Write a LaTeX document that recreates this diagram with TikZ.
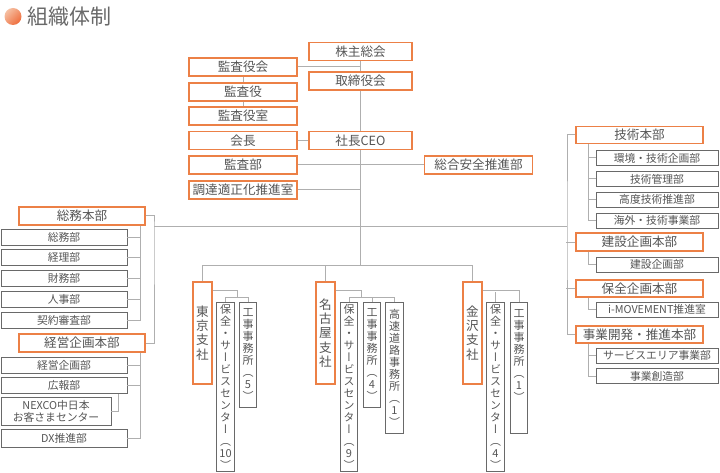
\documentclass[tikz,border=0pt]{standalone}
\usepackage{fontspec}
\setmainfont{Noto Sans CJK JP}
\newfontfamily\tatefont{Noto Sans CJK JP}[RawFeature=+vert]
\usepackage{tikz}
\usetikzlibrary{positioning}
\definecolor{orgorange}{RGB}{236,128,70}
\definecolor{subgray}{RGB}{105,105,105}
\definecolor{linegray}{RGB}{175,175,175}
\definecolor{textgray}{RGB}{85,85,85}
\definecolor{titlegray}{RGB}{105,105,105}
\tikzset{
  orgblock/.style={
    draw=orgorange,
    line width=1.3pt,
    fill=white,
    text=textgray,
    inner sep=0pt,
    minimum width=108pt,
    minimum height=18pt,
    font=\fontsize{12.6}{14}\selectfont
  },
  subblock/.style={
    draw=subgray,
    line width=0.9pt,
    fill=white,
    text=textgray,
    inner sep=0pt,
    minimum width=126pt,
    minimum height=16pt,
    font=\fontsize{10.8}{12}\selectfont
  },
  rorgblock/.style={
    orgblock,
    minimum width=127pt,
    minimum height=17pt
  },
  rsubblock/.style={
    subblock,
    minimum width=122pt,
    minimum height=15pt
  },
  orgvblock/.style={
    orgblock,
    minimum width=19pt,
    minimum height=102pt,
    align=center,
    font=\tatefont\fontsize{12.6}{14.4}\selectfont
  },
  subvblock/.style={
    subblock,
    minimum width=17.5pt,
    align=center,
    font=\tatefont\fontsize{11}{12}\selectfont
  },
  orgline/.style={draw=linegray, line width=1pt}
}

\begin{document}
\begin{tikzpicture}[x=1pt, y=-1pt]
\useasboundingbox (0,0) rectangle (720,473);

\node[circle, inner sep=0pt, minimum size=17pt, top color=orgorange!50!white, bottom color=orgorange!85!red, shading angle=45] (dot) at (13,16.5) {};
\node[anchor=west, inner sep=0pt, text=titlegray, font=\fontsize{21}{25}\selectfont] (title) at (27.5,17) {組織体制};

\node[orgblock, minimum width=103pt] (kabunushi) at (360.5,51.5) {株主総会};
\node[orgblock, minimum width=103pt] (torishimari) at (360.5,81) {取締役会};
\node[orgblock, minimum width=103pt] (shacho) at (360.5,140.5) {社長CEO};
\node[orgblock] (kansayakukai) at (243,67) {監査役会};
\node[orgblock] (kansayaku) at (243,92) {監査役};
\node[orgblock] (kansayakushitsu) at (243,116) {監査役室};
\node[orgblock] (kaicho) at (243,140.5) {会長};
\node[orgblock] (kansabu) at (243,165) {監査部};
\node[orgblock] (chotatsu) at (243,190) {調達適正化推進室};
\node[orgblock] (sogoanzen) at (478.5,165) {総合安全推進部};

\node[orgblock, minimum width=126pt] (somuhonbu) at (82,216) {総務本部};
\node[subblock] (somubu) at (64,237) {総務部};
\node[subblock, below=4pt of somubu] (keiribu) {経理部};
\node[subblock, below=4pt of keiribu] (zaimubu) {財務部};
\node[subblock, below=4pt of zaimubu] (jinjibu) {人事部};
\node[subblock, below=4pt of jinjibu] (keiyaku) {契約審査部};
\node[orgblock, minimum width=126pt] (keieihonbu) at (82,343) {経営企画本部};
\node[subblock] (keieikikaku) at (64,365) {経営企画部};
\node[subblock, below=4pt of keieikikaku] (koho) {広報部};
\node[subblock, minimum width=110pt, minimum height=28pt, align=center] (nexco) at (56,411) {NEXCO中日本\\お客さまセンター};
\node[subblock, minimum height=18pt] (dx) at (64,438) {DX推進部};

\node[rorgblock] (gijutsu) at (639.5,135) {技術本部};
\node[rsubblock] (kankyo) at (657,158) {環境・技術企画部};
\node[rsubblock, below=5pt of kankyo] (gijutsukanri) {技術管理部};
\node[rsubblock, below=5pt of gijutsukanri] (kodo) {高度技術推進部};
\node[rsubblock, below=5pt of kodo] (kaigai) {海外・技術事業部};
\node[rorgblock, minimum height=18pt] (kensetsuhonbu) at (639.5,242) {建設企画本部};
\node[rsubblock] (kensetsukikaku) at (657,264.5) {建設企画部};
\node[rorgblock] (hozenhonbu) at (639.5,288.5) {保全企画本部};
\node[rsubblock] (imovement) at (657,309.5) {i-MOVEMENT推進室};
\node[rorgblock] (jigyohonbu) at (639.5,334.5) {事業開発・推進本部};
\node[rsubblock] (service) at (657,355.5) {サービスエリア事業部};
\node[rsubblock, below=5pt of service] (sozo) {事業創造部};

\node[orgvblock] (tokyo) at (202.5,333) {東\\京\\支\\社};
\node[subvblock, minimum height=169pt] (hozen10) at (225.5,386.5) {保\\全\\・\\サ\\ー\\ビ\\ス\\セ\\ン\\タ\\ー\\（\\10\\）};
\node[subvblock, minimum height=105pt] (koji5) at (248,354.5) {工\\事\\事\\務\\所\\（\\5\\）};
\node[orgvblock] (nagoya) at (325.5,333) {名\\古\\屋\\支\\社};
\node[subvblock, minimum height=169pt] (hozen9) at (349,386.5) {保\\全\\・\\サ\\ー\\ビ\\ス\\セ\\ン\\タ\\ー\\（\\9\\）};
\node[subvblock, minimum height=105pt] (koji4) at (372,354.5) {工\\事\\事\\務\\所\\（\\4\\）};
\node[subvblock, minimum height=131pt] (kosoku) at (394.5,367.5) {高\\速\\道\\路\\事\\務\\所\\（\\1\\）};
\node[orgvblock] (kanazawa) at (472.5,333) {金\\沢\\支\\社};
\node[subvblock, minimum height=169pt] (hozen4) at (495.5,386.5) {保\\全\\・\\サ\\ー\\ビ\\ス\\セ\\ン\\タ\\ー\\（\\4\\）};
\node[subvblock, minimum height=131pt, text depth=24pt] (koji1) at (519,367.5) {工\\事\\事\\務\\所\\（\\1\\）};

\coordinate (branch) at (360.5,265.5);
\coordinate (lbar) at (154,227);
\coordinate (rbar) at (567,227);
\coordinate (tokyofork) at (237,297.5);
\coordinate (nagoyafork) at (361,297.5);
\coordinate (kanazawafork) at (495.5,291.5);

\draw[orgline] (kabunushi) -- (torishimari);
\draw[orgline] (torishimari) -- (shacho);
\draw[orgline] (shacho) -- (branch);
\draw[orgline] (kansayakukai) -- (kansayakukai -| kabunushi);
\draw[orgline] (kansayakukai) -- (kansayaku);
\draw[orgline] (kansayaku) -- (kansayakushitsu);
\draw[orgline] (kaicho) -- (shacho);
\draw[orgline] (kansabu) -- (sogoanzen);
\draw[orgline] (chotatsu) -- (chotatsu -| shacho);
\draw[orgline] (lbar) -- (rbar);

\draw[orgline] (somuhonbu) -| (lbar) |- (keieihonbu);
\draw[orgline] ([xshift=58pt]somuhonbu.south) |- (keiyaku);
\foreach \dept in {somubu,keiribu,zaimubu,jinjibu}
  \draw[orgline] (\dept.east) -- ++(13,0);
\draw[orgline] ([xshift=58pt]keieihonbu.south) |- (dx);
\foreach \dept in {keieikikaku,koho}
  \draw[orgline] (\dept.east) -- ++(13,0);
\draw[orgline] ([xshift=54pt]koho.south) |- (nexco);

\draw[orgline] (gijutsu) -| (rbar) |- (jigyohonbu);
\foreach \hq in {kensetsuhonbu,hozenhonbu}
  \draw[orgline] (\hq.west) -- ++(-9,0);
\draw[orgline] ([xshift=-51.5pt]gijutsu.south) |- (kaigai);
\foreach \dept in {kankyo,gijutsukanri,kodo}
  \draw[orgline] (\dept.west) -- ++(-8,0);
\draw[orgline] ([xshift=-51.5pt]kensetsuhonbu.south) |- (kensetsukikaku);
\draw[orgline] ([xshift=-51.5pt]hozenhonbu.south) |- (imovement);
\draw[orgline] ([xshift=-51.5pt]jigyohonbu.south) |- (sozo);
\draw[orgline] (service.west) -- ++(-8,0);

\draw[orgline] (tokyo) |- (branch) -| (kanazawa);
\draw[orgline] (nagoya) -- (nagoya |- branch);
\draw[orgline] ([yshift=-9pt]tokyo.north east) -| (tokyofork);
\draw[orgline] (hozen10) |- (tokyofork) -| (koji5);
\draw[orgline] ([yshift=-9pt]nagoya.north east) -| (nagoyafork);
\draw[orgline] (hozen9) |- (nagoyafork) -| (kosoku);
\draw[orgline] (koji4) -- (koji4 |- nagoyafork);
\draw[orgline] ([yshift=-9pt]kanazawa.north east) -| (koji1);
\draw[orgline] (hozen4) -- (kanazawafork);
\end{tikzpicture}
\end{document}
